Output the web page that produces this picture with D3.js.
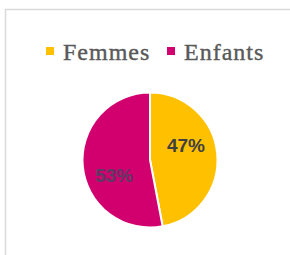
<!DOCTYPE html>
<html>
<head>
<meta charset="utf-8">
<script src="https://cdn.jsdelivr.net/npm/d3@7"></script>
<style>
  body { margin: 0; background: #fff; }
</style>
</head>
<body>
<div id="chart"></div>
<script>
// Chart data
var categories = ["Femmes", "Enfants"];
var values = [47, 53];
var colors = ["#FFC000", "#D2006F"];

var svgWidth = 290;
var svgHeight = 255;

var svg = d3.select("#chart")
  .append("svg")
  .attr("width", svgWidth)
  .attr("height", svgHeight);

// chart frame (only top and left edges are visible)
svg.append("rect")
  .attr("x", 5.5)
  .attr("y", 9.5)
  .attr("width", 300)
  .attr("height", 300)
  .attr("fill", "#fff")
  .attr("stroke", "#d9d9d9")
  .attr("stroke-width", 1.5);

// Legend
var legend = svg.append("g").attr("transform", "translate(46, 60)");
var legendX = [0, 121];
categories.forEach(function(c, i) {
  var g = legend.append("g").attr("transform", `translate(${legendX[i]}, 0)`);
  g.append("rect")
    .attr("x", 0)
    .attr("y", -13)
    .attr("width", 8)
    .attr("height", 8)
    .attr("fill", colors[i]);
  g.append("text")
    .attr("x", 17)
    .attr("y", 0)
    .attr("fill", "#595959")
    .attr("stroke", "#595959")
    .attr("stroke-width", 0.4)
    .style("font-family", "'Liberation Serif', 'Times New Roman', serif")
    .style("font-size", "24px")
    .style("letter-spacing", "1px")
    .text(c);
});

// Pie
var cx = 150, cy = 160, radius = 67.5;
var pieGroup = svg.append("g").attr("transform", `translate(${cx}, ${cy})`);

var pie = d3.pie().sort(null).value(d => d);
var arcs = pie(values);

var arc = d3.arc().innerRadius(0).outerRadius(radius);

pieGroup.selectAll("path")
  .data(arcs)
  .enter()
  .append("path")
  .attr("d", arc)
  .attr("fill", (d, i) => colors[i])
  .attr("stroke", "#fff")
  .attr("stroke-width", 2);

// Data labels (best-fit style placement)
var labelOffset = -0.3;
var labelR = 39;
pieGroup.selectAll("text.label")
  .data(arcs)
  .enter()
  .append("text")
  .attr("class", "label")
  .attr("x", d => labelR * Math.sin((d.startAngle + d.endAngle) / 2 + labelOffset))
  .attr("y", d => -labelR * Math.cos((d.startAngle + d.endAngle) / 2 + labelOffset))
  .attr("dy", "0.36em")
  .attr("text-anchor", "middle")
  .attr("fill", (d, i) => i === 0 ? "#404040" : "#5c3a64")
  .style("font-family", "'Liberation Sans', Arial, sans-serif")
  .style("font-weight", "bold")
  .style("font-size", "19px")
  .text(d => d.data + "%");
</script>
</body>
</html>
